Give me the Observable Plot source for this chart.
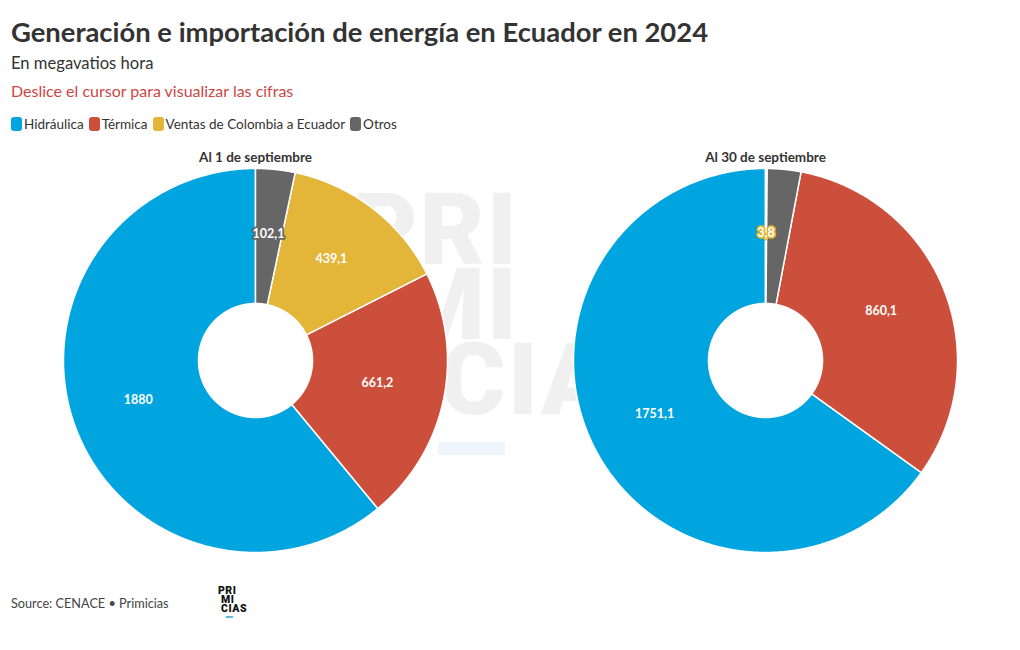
<!DOCTYPE html>
<html>
<head>
<meta charset="utf-8">
<script src="https://cdn.jsdelivr.net/npm/d3@7"></script>
<script src="https://cdn.jsdelivr.net/npm/@observablehq/plot@0.6"></script>
<style>
  html, body { margin: 0; padding: 0; background: #fff; }
  body { width: 1020px; height: 650px; position: relative; overflow: hidden; font-family: Lato, "Noto Sans", sans-serif; color: #333; }
  .abs { position: absolute; white-space: nowrap; }
  #title { left: 11px; top: 16px; font-size: 27.4px; font-weight: 700; color: #333; line-height: 32px; }
  #subtitle { left: 11px; top: 53px; font-size: 16.6px; line-height: 20px; color: #333; }
  #note { left: 11px; top: 81px; font-size: 16px; line-height: 20px; color: #cc4745; }
  #legend { left: 11px; top: 115px; font-size: 13.5px; line-height: 18px; display: flex; align-items: center; }
  .sw { display: inline-block; width: 11px; height: 14px; border-radius: 3px; margin-right: 2px; }
  .item { display: inline-flex; align-items: center; margin-right: 5px; }
  #wm { left: 0; top: 0; width: 1020px; height: 650px; }
  .wmt { position: absolute; font-family: Roboto, sans-serif; font-weight: 900; font-size: 100px; line-height: 100px; color: #f0f0f0; letter-spacing: 2px; }
  #chart { left: 0; top: 138px; }
  #caption { left: 11px; top: 594px; font-size: 12.7px; line-height: 18px; color: #444; }
  #logo { left: 218px; top: 586px; font-family: Roboto, sans-serif; font-weight: 900; font-size: 10.5px; line-height: 9px; color: #111; letter-spacing: 0.5px; }
</style>
</head>
<body>
<div id="wm" class="abs">
  <div class="wmt" style="right:501px; top:180px;">PRI</div>
  <div class="wmt" style="right:501px; top:255px;">MI</div>
  <div class="wmt" style="left:440px; top:330px;">CIAS</div>
  <div style="position:absolute; left:438px; top:442px; width:67px; height:13px; background:#eef5fb;"></div>
</div>
<div id="title" class="abs">Generación e importación de energía en Ecuador en 2024</div>
<div id="subtitle" class="abs">En megavatios hora</div>
<div id="note" class="abs">Deslice el cursor para visualizar las cifras</div>
<div id="legend" class="abs"></div>
<div id="chart" class="abs"></div>
<div id="caption" class="abs">Source: CENACE • Primicias</div>
<div id="logo" class="abs">PRI<br>&nbsp;MI<br>&nbsp;CIAS<div style="width:7px;height:1.5px;background:#5bb8e3;margin-left:8px;margin-top:3px;"></div></div>
<script>
// ---- data ----
const categories = ["Hidráulica", "Térmica", "Ventas de Colombia a Ecuador", "Otros"];
const colors = ["#00a5df", "#cc4f3c", "#e3b538", "#666666"];
const dates = ["Al 1 de septiembre", "Al 30 de septiembre"];
const valuesSep1 = [1880, 661.2, 439.1, 102.1];
const valuesSep30 = [1751.1, 860.1, 3.8, 76];
const showLabelSep1 = [true, true, true, true];
const showLabelSep30 = [true, true, true, false];

// legend
const legend = document.getElementById("legend");
categories.forEach((c, i) => {
  const it = document.createElement("span");
  it.className = "item";
  it.innerHTML = `<span class="sw" style="background:${colors[i]}"></span>${c}`;
  legend.appendChild(it);
});

const fmt = d3.formatLocale({decimal: ",", thousands: "", grouping: [3], currency: ["", ""]}).format(".1~f");

const inner = 0.297;
const mid = (1 + inner) / 2;
const series = [
  {date: dates[0], values: valuesSep1, show: showLabelSep1},
  {date: dates[1], values: valuesSep30, show: showLabelSep30}
];
const pie = d3.pie().sort((a, b) => a.value - b.value).value(d => d.value);

const polys = [];
const labels = [];
series.forEach(s => {
  const rows = categories.map((c, i) => ({category: c, value: s.values[i], show: s.show[i]}));
  pie(rows).forEach(arc => {
    const a0 = arc.startAngle, a1 = arc.endAngle;
    const n = Math.max(2, Math.ceil((a1 - a0) / 0.005));
    const pts = [];
    for (let k = 0; k <= n; k++) { const a = a0 + (a1 - a0) * k / n; pts.push([Math.sin(a), Math.cos(a)]); }
    for (let k = n; k >= 0; k--) { const a = a0 + (a1 - a0) * k / n; pts.push([inner * Math.sin(a), inner * Math.cos(a)]); }
    pts.forEach(([x, y]) => polys.push({date: s.date, category: arc.data.category, key: s.date + arc.data.category, x, y}));
    if (arc.data.show) {
      const am = (a0 + a1) / 2;
      labels.push({date: s.date, category: arc.data.category, x: mid * Math.sin(am), y: mid * Math.cos(am), text: fmt(arc.data.value)});
    }
  });
});

const R = 192;
const panelW = 510;
const plot = Plot.plot({
  width: 1020,
  height: 30 + 2 * R + 14,
  marginTop: 30,
  marginBottom: 14,
  marginLeft: 0,
  marginRight: 0,
  style: {background: "transparent", fontFamily: "Lato, 'Noto Sans', sans-serif"},
  fx: {domain: dates, padding: 0, axis: null},
  x: {domain: [-panelW / 2 / R, panelW / 2 / R], axis: null},
  y: {domain: [-1, 1], axis: null},
  color: {domain: categories, range: colors},
  marks: [
    Plot.line(polys, {fx: "date", x: "x", y: "y", z: "key", fill: "category", stroke: "white", strokeWidth: 1.5, curve: "linear-closed"}),
    Plot.text(labels, {fx: "date", x: "x", y: "y", text: "text", dy: -3, fill: "white", stroke: "category", strokeWidth: 3.5, fontWeight: 700, fontSize: 12.5}),
    Plot.text(dates, {fx: d => d, text: d => d, frameAnchor: "top", lineAnchor: "middle", dy: -11, fontWeight: 700, fontSize: 13.5, fill: "#333"})
  ]
});
document.getElementById("chart").appendChild(plot);
</script>
</body>
</html>
